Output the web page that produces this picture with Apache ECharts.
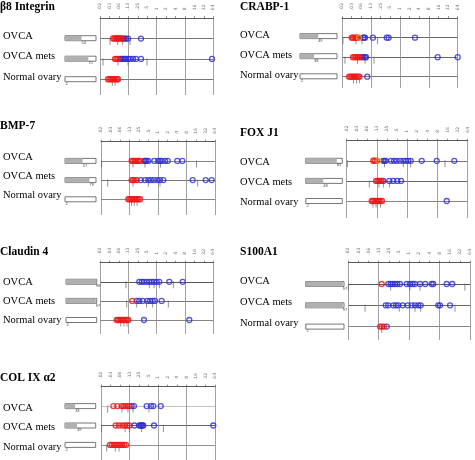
<!DOCTYPE html>
<html><head><meta charset="utf-8">
<script src="https://cdn.jsdelivr.net/npm/echarts@6/dist/echarts.min.js"></script>
<style>html,body{margin:0;padding:0;background:#fff}#c{width:475px;height:460px}</style>
</head><body><div id="c"></div><script>
// ---- data ----
const tickLabels = ['.02','.03','.06','.13','.25','.5','1','2','4','8','16','32','64'];
const rowNames = ['OVCA','OVCA mets','Normal ovary'];
const panelTitles = ['β8 Integrin','CRABP-1','BMP-7','FOX J1','Claudin 4','S100A1','COL IX α2'];

// gray share of each row box (percent): OVCA, OVCA mets, Normal ovary
const barsB8 = [53,75,2];
const barsCRABP = [49,38,2];
const barsBMP = [57,79,2];
const barsFOX = [85,48,2];
const barsCLD = [98,97,2];
const barsS100 = [97,97,2];
const barsCOL = [33,39,2];

// point positions in tick units (0..12), one list per row
const redB8 = [[1.38,1.54,1.69,1.80,1.91,2.01,2.17,2.33],[1.59,1.75,1.91],[0.85,1.01,1.17,1.32,1.48,1.64,1.80,1.91]];
const blueB8 = [[2.44,2.60,2.75,2.97,4.34],[2.12,2.28,2.44,2.59,2.75,2.97,3.18,3.50,3.81,4.34,11.86],[]];
const markB8 = [[1.06,1.87,2.40,3.18],[0.32,1.91,2.97,4.98],[1.3,1.6]];

const redCRABP = [[1.01,1.14,1.30,1.45,1.59,1.69],[1.14,1.30,1.45,1.61,1.76,1.87],[0.73,0.88,1.04,1.19,1.35,1.50,1.66,1.81]];
const orangeCRABP = [[1.76],[],[]];
const blueCRABP = [[2.18,2.28,2.39,3.21,4.64,4.84,7.57],[2.07,2.23,2.39,2.49,9.92,12.0],[2.62]];
const markCRABP = [[0.10,1.45,2.07,3.70],[0.31,1.61,2.39,3.32],[1.2,1.5,1.8]];

const redBMP = [[3.23,3.37,3.53,3.68,3.84,4.00,4.11],[3.23,3.37,3.53,3.76],[2.87,3.00,3.16,3.32,3.47,3.63,3.79,3.95,4.11]];
const blueBMP = [[4.56,4.68,4.79,4.98,5.61,6.03,6.21,6.39,6.74,7.02,8.03,8.56],[4.18,4.63,4.98,5.26,5.58,5.93,6.21,6.56,9.65,11.02,11.65],[]];
const markBMP = [[0.07,3.37,4.63,6.28,10.07],[0.71,3.37,4.98,6.21,10.18],[3.2,3.5,3.8]];

const redFOX = [[2.64,2.78,2.98],[2.91,3.06,3.20,3.35,3.47],[2.48,2.61,2.76,2.91,3.06,3.20,3.35,3.50]];
const orangeFOX = [[3.13],[],[]];
const blueFOX = [[3.63,3.75,3.87,4.39,4.69,4.96,5.29,5.61,5.88,6.11,6.35,7.44,8.93,10.67],[3.63,4.23,4.62,5.02,5.39],[9.92]];
const markFOX = [[0.06,3.75,5.61,6.35,9.75],[2.24,3.20,3.63,4.23],[2.61,2.91,3.35]];

const redCLD = [[],[3.42],[1.77,1.91,2.07,2.22,2.38,2.54,2.70,2.86,3.00]];
const blueCLD = [[4.16,4.42,4.66,4.95,5.22,5.48,5.72,6.00,6.28,7.34,8.76],[3.89,4.16,4.52,5.01,5.30,5.58,5.82,6.53],[4.66,9.46]];
const markCLD = [[2.75,5.22,5.72,6.28,7.76],[2.83,3.89,4.93,5.58,7.23],[2.2,2.54,2.86]];

const redS100 = [[3.29],[],[3.13,3.32,3.52]];
const blueS100 = [[3.94,4.18,4.38,4.60,4.83,5.10,5.76,6.08,6.35,6.58,7.07,7.59,8.22,8.38,9.70,10.25],[3.69,3.94,4.44,4.70,4.93,5.36,5.86,6.25,6.58,6.90,7.14,8.87,9.04,10.03],[3.79]];
const markS100 = [[0,4.18,6.08,7.07,11.5],[1.65,5.02,6.58,7.14,10.52],[3.3]];

const redCOL = [[1.30,1.72,2.18,2.37,2.58,2.79,2.98],[1.55,1.89,2.24,2.53,2.77,2.98],[0.95,1.16,1.37,1.58,1.79,2.00,2.21,2.42,2.63]];
const blueCOL = [[3.23,3.47,4.81,5.26,5.51,6.29],[3.51,4.03,4.16,4.26,4.37,4.45,5.58,11.82],[]];
const markCOL = [[0.71,2.21,2.84,3.37,5.05],[0.07,2.53,2.98,4.26,6.56],[0.6,1.5,1.9]];

// ---- layout (pixels) ----
const layouts = [
 {tx:0,  tt:1,   ay:17.7,  sp:20.5, x0:100,   x1:213.3, b0:60,    b1:96,    bot:95,  lx:-2,  dy:-2, rowCol:['#666','#666','#666']},
 {tx:240,tt:1,   ay:16,    sp:20.1, x0:342,   x1:457.7, b0:300,   b1:337,   bot:88,  lx:240, dy:-1, rowCol:['#555','#555','#666']},
 {tx:0,  tt:120, ay:141.7, sp:19.2, x0:101,   x1:215,   b0:60,    b1:96,    bot:215, lx:-2,  dy:-4, rowCol:['#777','#666','#777']},
 {tx:240,tt:127, ay:140.7, sp:20.1, x0:346.7, x1:467.7, b0:305.7, b1:342.3, bot:218, lx:240, dy:1,  rowCol:['#666','#555','#777']},
 {tx:0,  tt:246, ay:262.7, sp:19.1, x0:100,   x1:213.3, b0:61,    b1:96.7,  bot:334, lx:-2,  dy:0,  rowCol:['#444','#666','#777']},
 {tx:240,tt:246, ay:262.7, sp:21.3, x0:348.3, x1:470,   b0:305.7, b1:344,   bot:340, lx:240, dy:-3, rowCol:['#444','#555','#777']},
 {tx:0,  tt:372, ay:386.7, sp:19.4, x0:101,   x1:215,   b0:60,    b1:95.7,  bot:460, lx:-2,  dy:2,  rowCol:['#bbb','#555','#888']}
];

const panels = [
 {bars:barsB8, red:redB8, blue:blueB8, orange:[[],[],[]], mark:markB8},
 {bars:barsCRABP, red:redCRABP, blue:blueCRABP, orange:orangeCRABP, mark:markCRABP},
 {bars:barsBMP, red:redBMP, blue:blueBMP, orange:[[],[],[]], mark:markBMP},
 {bars:barsFOX, red:redFOX, blue:blueFOX, orange:orangeFOX, mark:markFOX},
 {bars:barsCLD, red:redCLD, blue:blueCLD, orange:[[],[],[]], mark:markCLD},
 {bars:barsS100, red:redS100, blue:blueS100, orange:[[],[],[]], mark:markS100},
 {bars:barsCOL, red:redCOL, blue:blueCOL, orange:[[],[],[]], mark:markCOL}
];

const SERIF = '"Liberation Serif","DejaVu Serif",serif';
function pts(rows){ const out=[]; rows.forEach((r,i)=>r.forEach(v=>out.push([v,i+1]))); return out; }

const option = {animation:false, backgroundColor:'#fff', title:[], grid:[], xAxis:[], yAxis:[], series:[]};

panels.forEach((p,i)=>{
  const L = layouts[i];
  option.title.push({text:panelTitles[i], left:L.tx, top:L.tt, padding:0,
    textStyle:{fontFamily:SERIF, fontWeight:'bold', fontSize:11.5, color:'#000'}});
  // scatter grid
  const yMax = (L.bot - L.ay)/L.sp;
  option.grid.push({left:L.x0, top:L.ay, width:L.x1-L.x0, height:L.bot-L.ay});
  const g = option.grid.length-1;
  option.xAxis.push({gridIndex:g, type:'value', min:0, max:12, interval:1, position:'top',
    axisLine:{show:true, lineStyle:{color:'#555', width:0.8}},
    axisTick:{show:true, length:2, lineStyle:{color:'#555', width:0.7}},
    axisLabel:{show:true, rotate:90, fontSize:4.5, margin:8, color:'#777', showMinLabel:true, showMaxLabel:true,
      fontFamily:'DejaVu Sans', formatter:v=>tickLabels[Math.round(v)]},
    splitLine:{show:false}});
  const xa = option.xAxis.length-1;
  option.xAxis.push({gridIndex:g, type:'value', min:0, max:12, interval:3, position:'bottom',
    axisLine:{show:false}, axisTick:{show:false}, axisLabel:{show:false},
    splitLine:{show:true, lineStyle:{color:'#8a8a8a', width:0.8}}});
  option.yAxis.push({gridIndex:g, type:'value', min:0, max:yMax, interval:1, inverse:true,
    axisLine:{show:false}, axisTick:{show:false}, axisLabel:{show:false},
    splitLine:{show:true, showMaxLine:false, lineStyle:{color:['#555'].concat(L.rowCol,['rgba(0,0,0,0)']), width:0.9}}});
  const ya = option.yAxis.length-1;
  option.series.push({type:'scatter', xAxisIndex:xa, yAxisIndex:ya, data:pts(p.mark), symbol:'rect',
    symbolSize:[0.8,7], symbolOffset:[0,3], itemStyle:{color:'#555'}, silent:true});
  option.series.push({type:'scatter', xAxisIndex:xa, yAxisIndex:ya, data:pts(p.blue), symbol:'circle', symbolSize:5,
    itemStyle:{color:'rgba(255,255,255,0)', borderColor:'#2b2bd4', borderWidth:1.3}});
  option.series.push({type:'scatter', xAxisIndex:xa, yAxisIndex:ya, data:pts(p.red), symbol:'circle', symbolSize:5,
    itemStyle:{color:'rgba(255,255,255,0)', borderColor:'#f01515', borderWidth:1.4}});
  option.series.push({type:'scatter', xAxisIndex:xa, yAxisIndex:ya, data:pts(p.orange), symbol:'circle', symbolSize:5,
    itemStyle:{color:'rgba(255,255,255,0)', borderColor:'#e0a21c', borderWidth:1.3}});
  // bar grid
  option.grid.push({left:L.b0, top:L.ay + L.sp/2, width:L.b1-L.b0, height:3*L.sp});
  const gb = option.grid.length-1;
  option.xAxis.push({gridIndex:gb, type:'value', min:0, max:100, show:false});
  const xc = option.xAxis.length-1;
  const pad = L.dy < 0 ? [0,0,-2*L.dy,0] : [2*L.dy,0,0,0];
  option.yAxis.push({gridIndex:gb, type:'category', data:rowNames, inverse:true,
    axisLine:{show:false}, axisTick:{show:false},
    axisLabel:{show:true, align:'left', margin:L.b0-L.lx, formatter:'{a|{value}}',
      rich:{a:{fontFamily:SERIF, fontSize:10.5, color:'#000', padding:pad}}}});
  const yb = option.yAxis.length-1;
  option.series.push({type:'bar', xAxisIndex:xc, yAxisIndex:yb, data:p.bars, barWidth:5,
    itemStyle:{color:'#b0b0b0'},
    showBackground:true, backgroundStyle:{color:'#fff', borderColor:'#555', borderWidth:0.8},
    label:{show:true, position:['100%','100%'], fontSize:4, color:'#444', formatter:'{c}'}});
});

const chart = echarts.init(document.getElementById('c'), null, {renderer:'canvas'});
chart.setOption(option);
</script></body></html>
